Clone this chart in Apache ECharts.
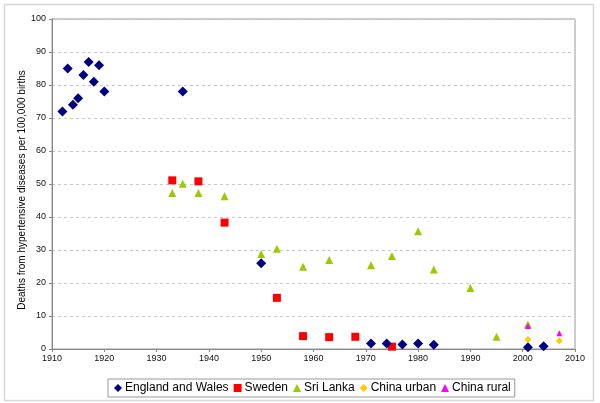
<!DOCTYPE html>
<html>
<head>
<meta charset="utf-8">
<script src="https://cdn.jsdelivr.net/npm/echarts@6/dist/echarts.min.js"></script>
<style>
html,body{margin:0;padding:0;background:#fff;}
#c{width:600px;height:403px;}
</style>
</head>
<body>
<div id="c"></div>
<script>
// England and Wales
const ewYears = [1912, 1913, 1914, 1915, 1916, 1917, 1918, 1919, 1920, 1935, 1950, 1971, 1974, 1977, 1980, 1983, 2001, 2004];
const ewValues = [72, 85, 74, 76, 83, 87, 81, 86, 78, 78, 26, 1.7, 1.7, 1.4, 1.7, 1.3, 0.5, 0.8];
// Sweden
const swYears = [1933, 1938, 1943, 1953, 1958, 1963, 1968, 1975];
const swValues = [51.1, 50.8, 38.3, 15.5, 3.9, 3.6, 3.7, 0.7];
// Sri Lanka
const slYears = [1933, 1935, 1938, 1943, 1950, 1953, 1958, 1963, 1971, 1975, 1980, 1983, 1990, 1995, 2001];
const slValues = [47.3, 50.1, 47.3, 46.3, 28.8, 30.4, 24.9, 27.0, 25.4, 28.2, 35.7, 24.1, 18.5, 3.7, 7.4];
// China urban
const cuYears = [2001, 2007];
const cuValues = [2.9, 2.5];
// China rural
const crYears = [2001, 2007];
const crValues = [7.0, 4.8];

const xTicks = {min: 1910, max: 2010, step: 10};
const yTicks = {min: 0, max: 100, step: 10};

function pts(xs, ys) { return xs.map((x, i) => [x, ys[i]]); }

const chart = echarts.init(document.getElementById('c'), null, {renderer: 'canvas'});
const font = 'Liberation Sans, Arial, sans-serif';
chart.setOption({
  animation: false,
  backgroundColor: '#fff',
  grid: {left: 52, right: 25, top: 19, bottom: 54, show: true, borderColor: '#999', borderWidth: 1},
  graphic: [
    {type: 'rect', shape: {x: 4.5, y: 4.5, width: 589, height: 396}, style: {fill: 'none', stroke: '#d8d8d8', lineWidth: 1.5}, z: -1},
    {type: 'text', x: 22, y: 190, rotation: Math.PI / 2,
     style: {text: 'Deaths from hypertensive diseases per 100,000 births', font: '10px ' + font, fill: '#000', textAlign: 'center', textVerticalAlign: 'middle'}}
  ],
  xAxis: {
    type: 'value', min: xTicks.min, max: xTicks.max, interval: xTicks.step,
    axisLine: {show: true, lineStyle: {color: '#888'}},
    axisTick: {show: true, length: 3, lineStyle: {color: '#888'}},
    axisLabel: {fontSize: 9, fontFamily: font, color: '#111', margin: 5, formatter: v => String(v)},
    splitLine: {show: false}
  },
  yAxis: {
    type: 'value', min: yTicks.min, max: yTicks.max, interval: yTicks.step,
    axisLine: {show: true, lineStyle: {color: '#888'}},
    axisTick: {show: true, length: 3, lineStyle: {color: '#888'}},
    axisLabel: {fontSize: 9, fontFamily: font, color: '#111', margin: 6, formatter: v => String(v)},
    splitLine: {show: true, lineStyle: {color: '#c8c8c8', type: [3, 3]}}
  },
  legend: {
    left: 108, top: 379, width: 420,
    padding: [3, 4, 3, 6], itemGap: 5, itemWidth: 8, itemHeight: 8,
    borderColor: '#999', borderWidth: 1,
    textStyle: {fontSize: 12, fontFamily: font, color: '#000', padding: [0, 0, 0, -2]},
    data: ['England and Wales', 'Sweden', 'Sri Lanka', 'China urban', 'China rural']
  },
  series: [
    {name: 'England and Wales', type: 'scatter', symbol: 'diamond', symbolSize: 10, itemStyle: {color: '#000080', opacity: 1}, data: pts(ewYears, ewValues), z: 5},
    {name: 'Sweden', type: 'scatter', symbol: 'rect', symbolSize: 8, itemStyle: {color: '#ff0000', opacity: 1}, data: pts(swYears, swValues), z: 4},
    {name: 'Sri Lanka', type: 'scatter', symbol: 'triangle', symbolSize: 8, itemStyle: {color: '#99cc00', opacity: 1}, data: pts(slYears, slValues), z: 3},
    {name: 'China urban', type: 'scatter', symbol: 'diamond', symbolSize: 7, itemStyle: {color: '#ffcc00', opacity: 1}, data: pts(cuYears, cuValues), z: 6},
    {name: 'China rural', type: 'scatter', symbol: 'triangle', symbolSize: 6, itemStyle: {color: '#ff00ff', opacity: 1}, data: pts(crYears, crValues), z: 6}
  ]
});
</script>
</body>
</html>
